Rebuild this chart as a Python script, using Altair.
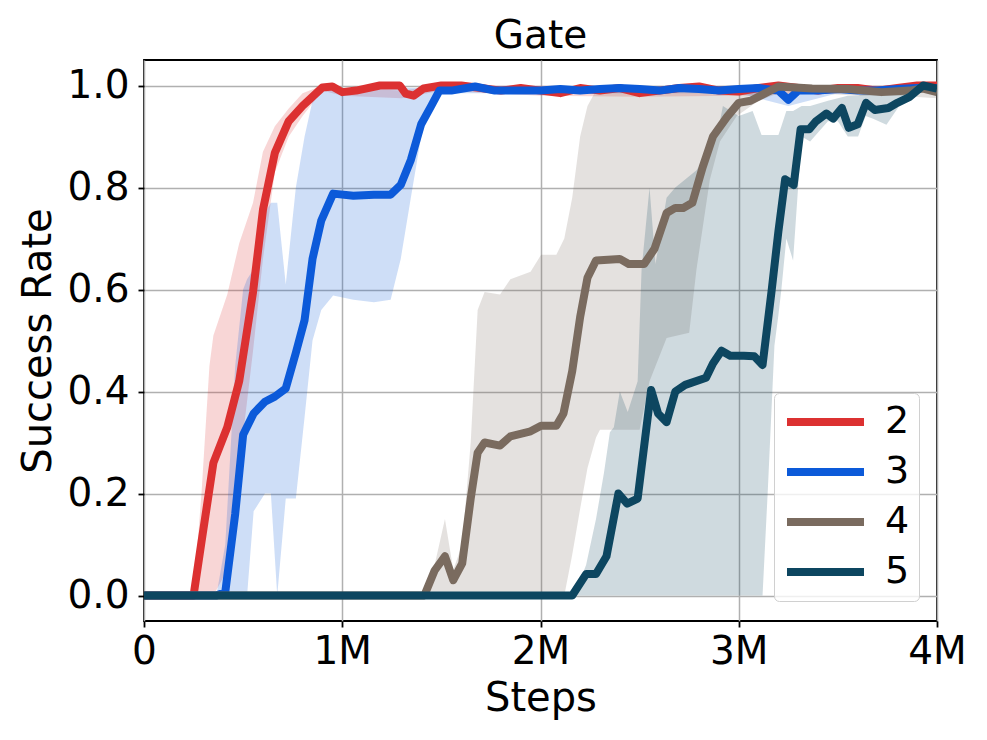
import altair as alt
import pandas as pd

SERIES = ["2", "3", "4", "5"]
COLORS = ["#dc3131", "#0c5ad9", "#7a6b5f", "#0d4660"]

# ---- mean curves (steps in millions) ----
S2_X = [0, 0.25, 0.29, 0.35, 0.42, 0.48, 0.55, 0.60, 0.66, 0.73, 0.80, 0.90, 0.95, 1.00, 1.07, 1.19, 1.29, 1.32, 1.36, 1.41,
        1.5, 1.6, 1.7, 1.8, 1.9, 2.0, 2.1, 2.2, 2.3, 2.4, 2.5, 2.6, 2.7, 2.8, 2.9, 3.0, 3.1, 3.2, 3.3, 3.4, 3.5, 3.6, 3.7, 3.8, 3.9, 4.0]
S2_Y = [0, 0, 0.105, 0.26, 0.33, 0.42, 0.595, 0.756, 0.868, 0.93, 0.96, 0.996, 0.998, 0.987, 0.99, 1.0, 1.0, 0.984, 0.98, 0.994,
        1.0, 1.0, 0.995, 0.99, 0.995, 0.99, 0.985, 0.995, 0.99, 0.995, 0.985, 0.99, 0.995, 0.998, 0.99, 0.988, 0.995, 1.0, 0.995, 0.99,
        0.995, 0.995, 0.99, 0.995, 1.0, 1.0]

S3_X = [0, 0.365, 0.41, 0.46, 0.50, 0.553, 0.61, 0.66, 0.715, 0.766, 0.81, 0.85, 0.894, 0.954, 1.056, 1.16, 1.244, 1.295, 1.346, 1.398,
        1.449, 1.49, 1.55, 1.67, 1.77, 1.9, 2.0, 2.1, 2.2, 2.3, 2.4, 2.5, 2.6, 2.7, 2.8, 2.9, 3.0, 3.1, 3.2, 3.25, 3.3, 3.4, 3.5, 3.6, 3.7, 3.8, 3.9, 4.0]
S3_Y = [0, 0, 0.007, 0.16, 0.315, 0.357, 0.38, 0.39, 0.406, 0.476, 0.54, 0.66, 0.735, 0.788, 0.784, 0.786, 0.786, 0.805, 0.854, 0.924,
        0.96, 0.99, 0.99, 0.998, 0.99, 0.99, 0.99, 0.993, 0.99, 0.993, 0.995, 0.993, 0.99, 0.995, 0.993, 0.99, 0.993, 0.995, 0.99, 0.972,
        0.99, 0.99, 0.993, 0.99, 0.99, 0.993, 0.995, 0.995]

S4_X = [0, 1.414, 1.466, 1.518, 1.56, 1.605, 1.648, 1.683, 1.718, 1.796, 1.848, 1.95, 2.003, 2.08, 2.116, 2.16, 2.2, 2.237, 2.28, 2.4,
        2.445, 2.523, 2.575, 2.636, 2.68, 2.72, 2.766, 2.818, 2.87, 2.94, 3.0, 3.06, 3.13, 3.2, 3.37, 3.55, 3.72, 3.86, 3.93, 4.0]
S4_Y = [0, 0, 0.049, 0.077, 0.03, 0.063, 0.19, 0.28, 0.30, 0.294, 0.312, 0.322, 0.333, 0.333, 0.357, 0.44, 0.546, 0.623, 0.657, 0.66,
        0.65, 0.65, 0.68, 0.75, 0.76, 0.76, 0.77, 0.84, 0.9, 0.938, 0.966, 0.97, 0.984, 0.998, 0.994, 0.993, 0.987, 0.99, 0.994, 0.987]

S5_X = [0, 2.16, 2.23, 2.28, 2.333, 2.393, 2.437, 2.49, 2.558, 2.593, 2.636, 2.68, 2.73, 2.835, 2.87, 2.913, 2.957, 3.026, 3.078, 3.12,
        3.165, 3.2, 3.234, 3.277, 3.312, 3.355, 3.39, 3.442, 3.476, 3.52, 3.555, 3.6, 3.642, 3.686, 3.755, 3.8, 3.86, 3.93, 4.0]
S5_Y = [0, 0, 0.042, 0.042, 0.077, 0.2, 0.18, 0.19, 0.403, 0.357, 0.34, 0.4, 0.413, 0.427, 0.455, 0.48, 0.47, 0.47, 0.469, 0.452,
        0.595, 0.714, 0.816, 0.805, 0.914, 0.914, 0.93, 0.945, 0.935, 0.956, 0.917, 0.924, 0.966, 0.952, 0.956, 0.966, 0.977, 1.0, 0.994]

# ---- shaded bands (lower / upper) ----
B2_X = [0, 0.25, 0.29, 0.33, 0.35, 0.42, 0.48, 0.55, 0.60, 0.66, 0.73, 0.80, 0.90, 1.0, 1.3, 1.5, 2.0, 2.5, 3.0, 3.5, 4.0]
B2_LO = [0, 0, 0, 0, 0, 0.05, 0.25, 0.48, 0.66, 0.83, 0.9, 0.94, 0.99, 0.98, 0.975, 0.99, 0.98, 0.978, 0.98, 0.985, 0.99]
B2_HI = [0, 0, 0.2, 0.45, 0.51, 0.59, 0.69, 0.77, 0.87, 0.92, 0.955, 0.985, 1.0, 0.995, 0.99, 1.0, 1.0, 0.995, 1.0, 1.0, 1.0]

B3_X = [0, 0.365, 0.41, 0.46, 0.50, 0.52, 0.553, 0.61, 0.64, 0.672, 0.715, 0.766, 0.81, 0.85, 0.894, 0.954, 1.056, 1.16, 1.244, 1.295,
        1.346, 1.398, 1.449, 1.49, 2.0, 2.5, 3.0, 3.25, 3.5, 4.0]
B3_LO = [0, 0, 0, 0, 0, 0, 0.165, 0.2, 0.2, 0.0, 0.19, 0.19, 0.35, 0.5, 0.56, 0.588, 0.58, 0.575, 0.58, 0.66,
         0.78, 0.9, 0.96, 0.985, 0.985, 0.985, 0.985, 0.96, 0.985, 0.99]
B3_HI = [0, 0, 0.1, 0.45, 0.6, 0.62, 0.64, 0.75, 0.77, 0.77, 0.61, 0.8, 0.9, 0.97, 0.99, 0.995, 0.995, 0.995, 0.995, 0.995,
         0.995, 0.995, 0.995, 0.995, 0.995, 0.998, 0.998, 0.985, 0.998, 1.0]

B4_X = [0, 1.414, 1.466, 1.518, 1.56, 1.605, 1.648, 1.683, 1.718, 1.796, 1.848, 1.95, 2.003, 2.08, 2.12, 2.16, 2.2, 2.237, 2.28, 2.3,
        2.5, 2.55, 2.636, 2.75, 2.787, 2.854, 2.905, 2.99, 3.1, 3.2, 3.4, 3.6, 3.8, 4.0]
B4_LO = [0, 0, 0, 0, 0, 0, 0, 0, 0, 0, 0, 0, 0, 0, 0, 0.08, 0.17, 0.25, 0.31, 0.325,
         0.325, 0.42, 0.505, 0.515, 0.64, 0.815, 0.89, 0.94, 0.97, 0.985, 0.985, 0.98, 0.98, 0.975]
B4_HI = [0, 0, 0.06, 0.15, 0.05, 0.1, 0.3, 0.56, 0.595, 0.59, 0.62, 0.635, 0.668, 0.668, 0.7, 0.78, 0.9, 0.96, 0.99, 1.0,
         1.0, 1.0, 1.0, 1.0, 1.0, 1.0, 1.0, 1.0, 1.0, 1.0, 1.0, 1.0, 1.0, 1.0]

B5_X = [0, 2.16, 2.2, 2.23, 2.28, 2.32, 2.35, 2.37, 2.4, 2.44, 2.49, 2.51, 2.55, 2.58, 2.636, 2.68, 2.787, 2.89, 2.92, 3.0,
        3.07, 3.115, 3.12, 3.147, 3.18, 3.2, 3.215, 3.24, 3.274, 3.317, 3.36, 3.45, 3.5, 3.55, 3.602, 3.64, 3.678, 3.745, 3.813, 3.91, 4.0]
B5_LO = [0, 0, 0, 0, 0, 0, 0, 0, 0, 0, 0, 0, 0, 0, 0, 0, 0, 0, 0, 0,
         0, 0, 0, 0.21, 0.49, 0.55, 0.6, 0.7, 0.657, 0.9, 0.89, 0.93, 0.93, 0.9, 0.9, 0.94, 0.935, 0.923, 0.962, 0.995, 0.98]
B5_HI = [0, 0, 0.03, 0.06, 0.15, 0.24, 0.32, 0.33, 0.4, 0.36, 0.42, 0.64, 0.8, 0.65, 0.78, 0.8, 0.834, 0.9, 0.96, 0.94,
         0.95, 0.903, 0.903, 0.903, 0.903, 0.903, 0.92, 0.95, 0.95, 0.96, 0.96, 0.97, 0.975, 0.98, 0.98, 0.985, 0.985, 0.99, 0.99, 1.0, 1.0]

X_TICKS = [0, 1, 2, 3, 4]
Y_TICKS = [0.0, 0.2, 0.4, 0.6, 0.8, 1.0]

line_rows = []
for name, xs, ys in [("2", S2_X, S2_Y), ("3", S3_X, S3_Y), ("4", S4_X, S4_Y), ("5", S5_X, S5_Y)]:
    for i, (x, y) in enumerate(zip(xs, ys)):
        line_rows.append({"series": name, "step": x, "rate": y, "idx": i})
line_df = pd.DataFrame(line_rows)

band_rows = []
for name, xs, lo, hi in [("2", B2_X, B2_LO, B2_HI), ("3", B3_X, B3_LO, B3_HI),
                         ("4", B4_X, B4_LO, B4_HI), ("5", B5_X, B5_LO, B5_HI)]:
    for i, (x, a, b) in enumerate(zip(xs, lo, hi)):
        band_rows.append({"series": name, "step": x, "lo": a, "hi": b, "idx": i})
band_df = pd.DataFrame(band_rows)

FONT = "DejaVu Sans"
x_scale = alt.Scale(domain=[0, 4], nice=False, zero=False)
y_scale = alt.Scale(domain=[-0.05, 1.05], nice=False, zero=False)
c_scale = alt.Scale(domain=SERIES, range=COLORS)

common_axis = dict(labelFontSize=39, titleFontSize=40, labelFont=FONT, titleFont=FONT,
                   titleFontWeight="normal", labelColor="black", titleColor="black",
                   tickColor="black", tickSize=6, tickWidth=1.8, domain=False, grid=True,
                   gridColor="#b0b0b0", gridWidth=1.5, labelOverlap=False, labelFlush=False)

x_axis = alt.Axis(values=X_TICKS, labelExpr="datum.value == 0 ? '0' : datum.value + 'M'",
                  title="Steps", labelPadding=5, titlePadding=7, **common_axis)
y_axis = alt.Axis(values=Y_TICKS, format=".1f", title="Success Rate",
                  labelPadding=9, titlePadding=8, **common_axis)

legend = alt.Legend(
    title=None, orient="none", legendX=630, legendY=333,
    symbolType="stroke", symbolStrokeWidth=8, symbolSize=5929,
    labelFontSize=38, labelFont=FONT, labelColor="black", labelOffset=17,
    rowPadding=10, clipHeight=40, padding=9,
    strokeColor="#d0d0d0", fillColor="rgba(255,255,255,0.8)", cornerRadius=5,
    symbolOpacity=1)

bands = alt.Chart(band_df).mark_area(opacity=0.2, clip=True).encode(
    x=alt.X("step:Q", scale=x_scale, axis=x_axis),
    y=alt.Y("lo:Q", scale=y_scale, axis=y_axis, stack=None),
    y2="hi:Q",
    color=alt.Color("series:N", scale=c_scale, legend=legend),
)

lines = alt.Chart(line_df).mark_line(strokeWidth=8, clip=True, strokeJoin="round").encode(
    x=alt.X("step:Q", scale=x_scale, axis=x_axis),
    y=alt.Y("rate:Q", scale=y_scale, axis=y_axis),
    color=alt.Color("series:N", scale=c_scale, legend=legend),
    order=alt.Order("idx:Q"),
)

chart = alt.layer(bands, lines).properties(
    width=793, height=561,
    title=alt.TitleParams("Gate", fontSize=39, font=FONT, fontWeight="normal", color="black",
                          anchor="middle", offset=4),
    autosize=alt.AutoSizeParams(type="none"),
    padding={"left": 136, "top": 52, "right": 42, "bottom": 110},
).configure_view(stroke="black", strokeWidth=1.8)

chart.save("out.html", embed_options={"renderer": "svg", "actions": False})
